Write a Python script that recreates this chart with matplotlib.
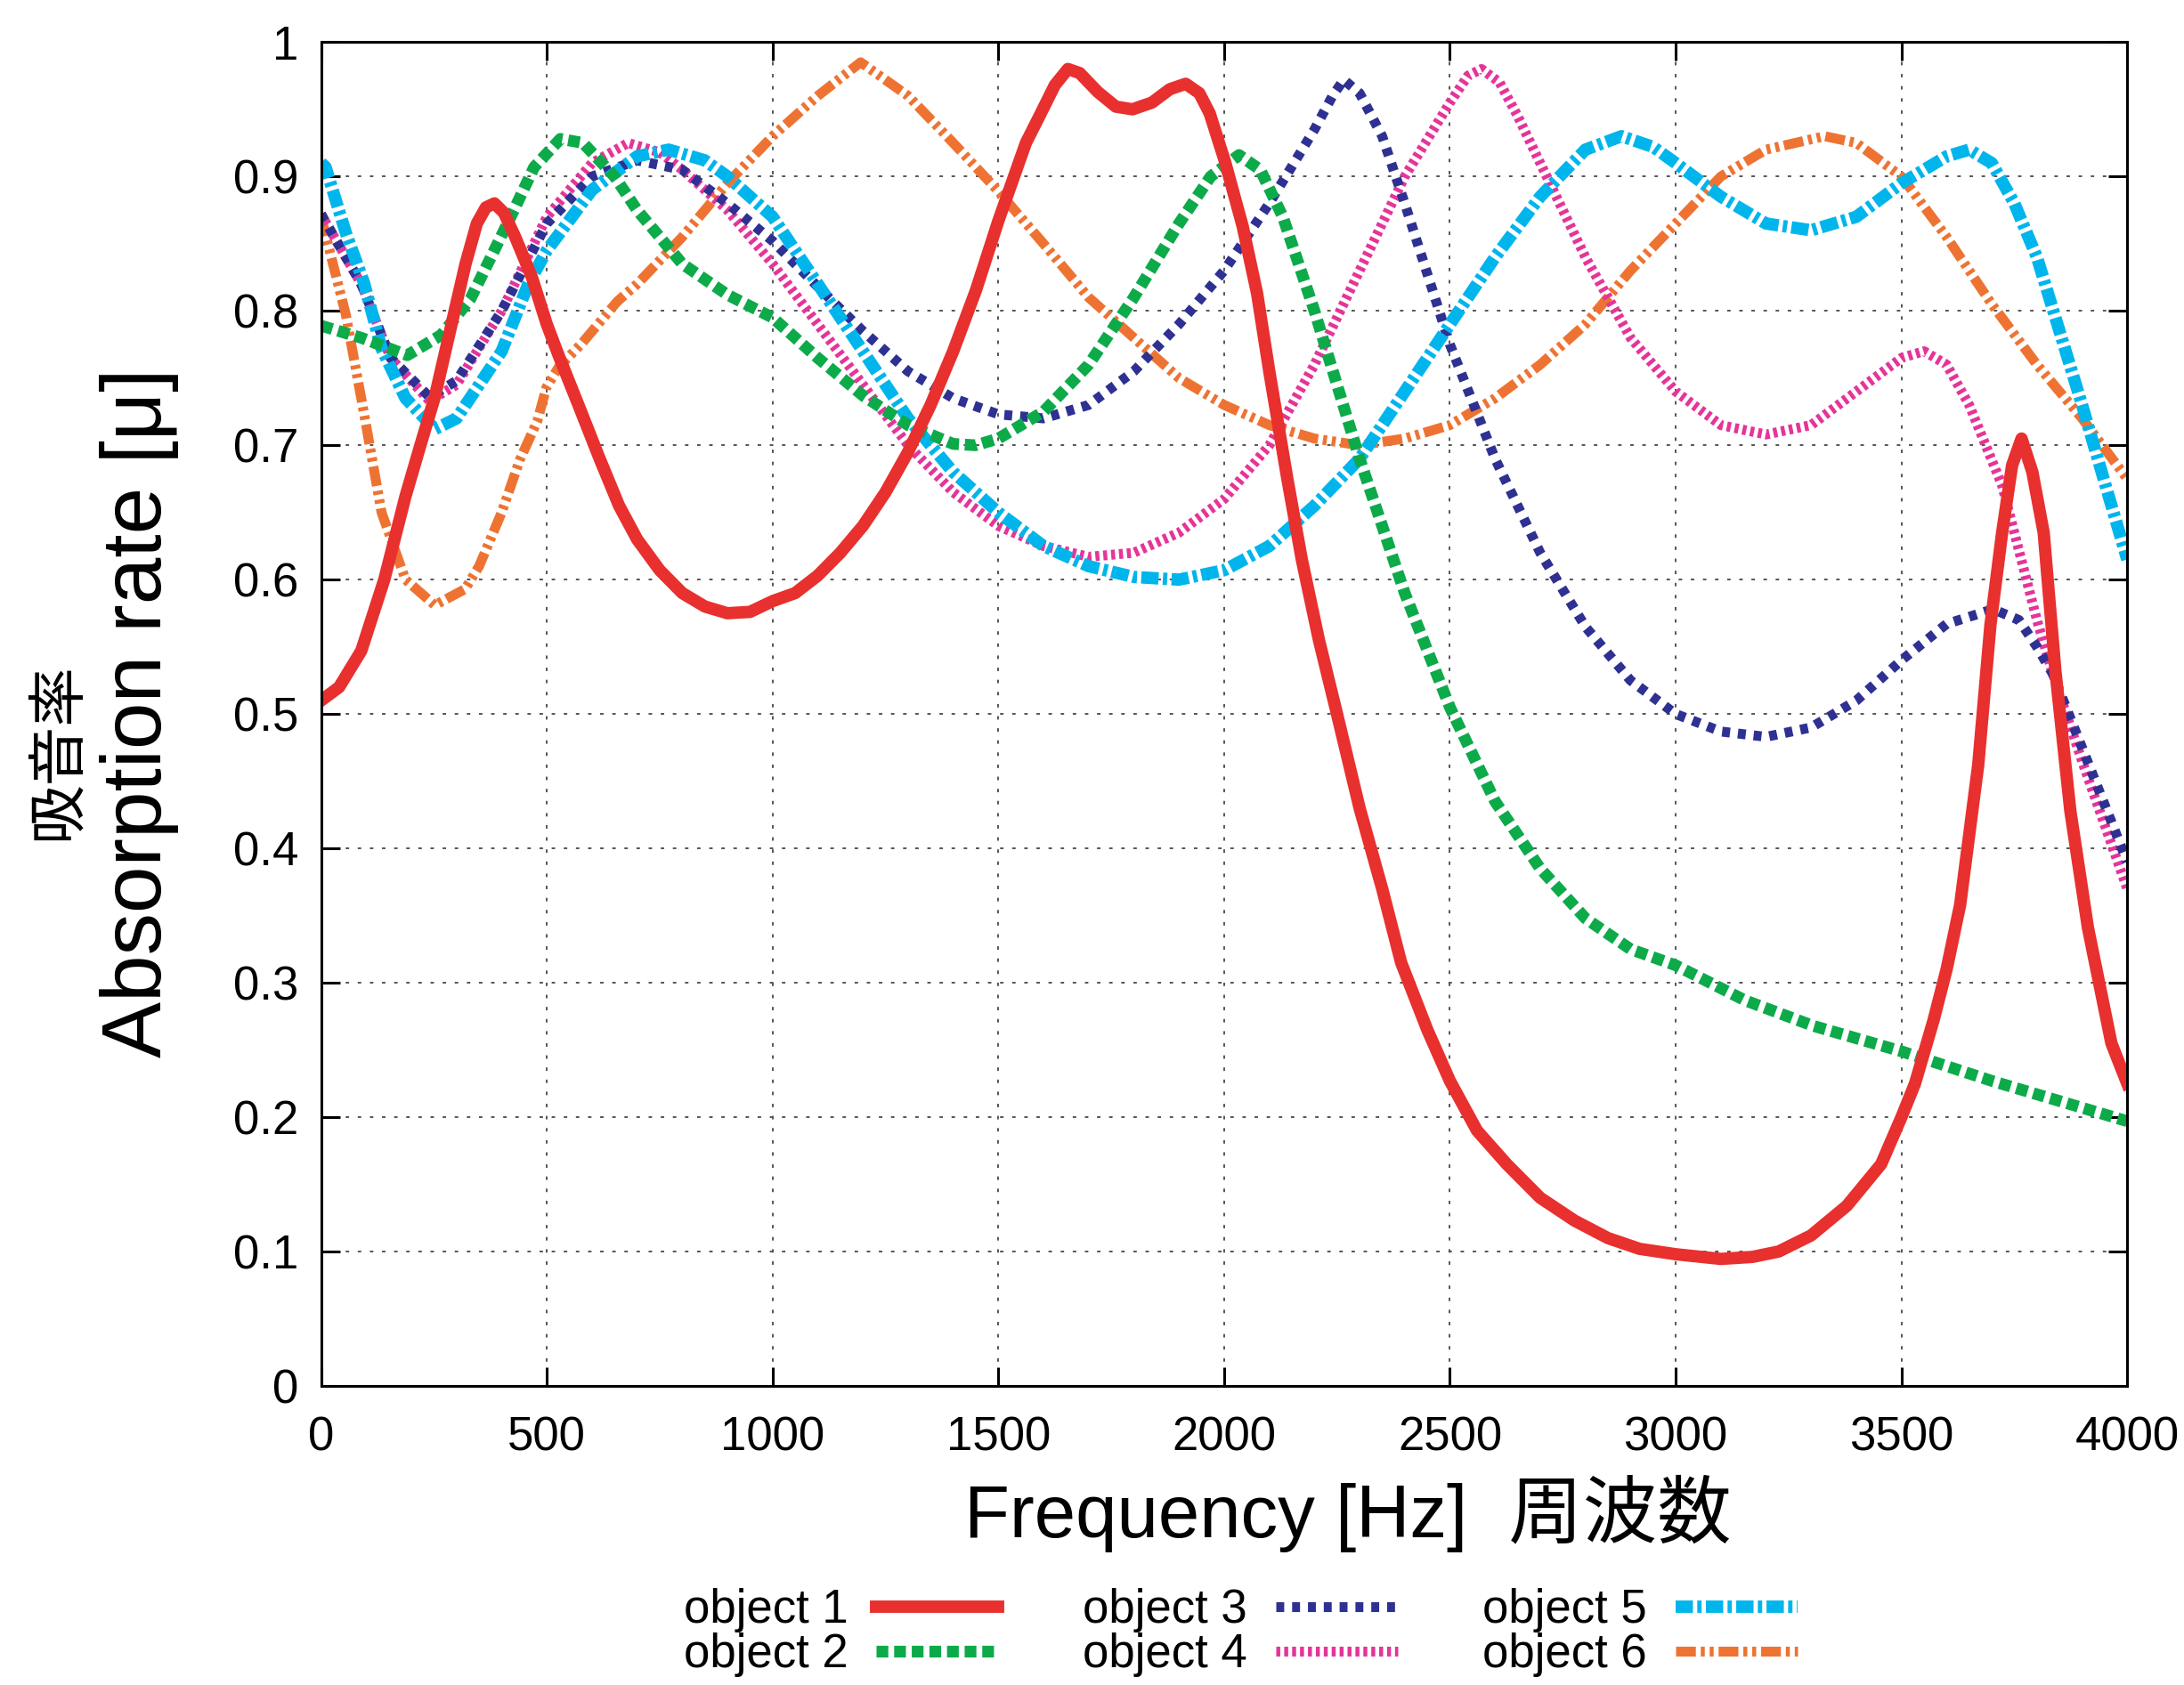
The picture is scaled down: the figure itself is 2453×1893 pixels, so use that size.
import matplotlib
matplotlib.use("Agg")
import matplotlib.pyplot as plt

plt.rcParams['font.family'] = ['Liberation Sans', 'Noto Sans CJK JP', 'DejaVu Sans']

# values (frequency in Hz, absorption rate)
f1 = [0, 40, 89, 140, 187, 220, 252, 289, 320, 345, 365, 384, 405, 430, 467, 500, 526,
      570, 617, 660, 700, 750, 800, 850, 900, 950, 1000, 1050, 1100, 1150, 1200, 1250,
      1300, 1350, 1400, 1450, 1500, 1561, 1594, 1625, 1654, 1680, 1720, 1760, 1797,
      1840, 1880, 1915, 1945, 1968, 2002, 2041, 2073, 2100, 2140, 2172, 2210, 2250,
      2300, 2350, 2392, 2450, 2500, 2560, 2626, 2700, 2776, 2850, 2920, 3000, 3100,
      3170, 3228, 3300, 3379, 3455, 3500, 3530, 3571, 3600, 3630, 3670, 3697, 3723,
      3745, 3766, 3790, 3815, 3841, 3874, 3913, 3965, 4000]
obj1 = [0.51, 0.52, 0.547, 0.60, 0.662, 0.70, 0.736, 0.79, 0.835, 0.865, 0.877, 0.88,
        0.873, 0.855, 0.825, 0.79, 0.767, 0.73, 0.69, 0.655, 0.63, 0.607, 0.59, 0.58,
        0.575, 0.576, 0.584, 0.59, 0.603, 0.62, 0.64, 0.665, 0.695, 0.73, 0.77, 0.815,
        0.867, 0.925, 0.947, 0.968, 0.98, 0.977, 0.963, 0.952, 0.95, 0.955, 0.965, 0.969,
        0.962, 0.947, 0.911, 0.863, 0.813, 0.755, 0.675, 0.615, 0.555, 0.50, 0.43, 0.37,
        0.315, 0.265, 0.227, 0.19, 0.165, 0.14, 0.123, 0.11, 0.102, 0.098, 0.0945,
        0.096, 0.10, 0.112, 0.134, 0.165, 0.20, 0.225, 0.272, 0.31, 0.358, 0.462, 0.566,
        0.635, 0.685, 0.705, 0.68, 0.635, 0.532, 0.428, 0.341, 0.255, 0.225]

f2 = [0, 89, 191, 266, 331, 420, 472, 530, 580, 650, 700, 800, 900, 1000, 1100, 1200,
      1300, 1400, 1450, 1500, 1600, 1700, 1800, 1900, 1970, 2033, 2080, 2130, 2200,
      2300, 2400, 2500, 2600, 2700, 2800, 2900, 3000, 3153, 3304, 3500, 3700, 3850, 4000]
obj2 = [0.789, 0.78, 0.767, 0.782, 0.809, 0.87, 0.907, 0.928, 0.925, 0.90, 0.875, 0.835,
        0.812, 0.795, 0.765, 0.737, 0.715, 0.701, 0.70, 0.705, 0.725, 0.76, 0.81, 0.865,
        0.90, 0.916, 0.905, 0.87, 0.80, 0.69, 0.59, 0.505, 0.435, 0.385, 0.348, 0.325,
        0.313, 0.287, 0.268, 0.249, 0.227, 0.212, 0.197]

f3 = [0, 89, 154, 240, 300, 400, 500, 600, 700, 800, 900, 1000, 1100, 1200, 1300, 1400,
      1500, 1600, 1700, 1800, 1900, 2000, 2100, 2200, 2240, 2265, 2300, 2350, 2400, 2500,
      2600, 2700, 2800, 2900, 3000, 3100, 3200, 3300, 3400, 3500, 3600, 3703, 3760,
      3800, 3835, 3900, 4000]
obj3 = [0.872, 0.82, 0.765, 0.736, 0.748, 0.80, 0.865, 0.90, 0.912, 0.905, 0.88, 0.852,
        0.818, 0.785, 0.755, 0.735, 0.723, 0.72, 0.73, 0.755, 0.79, 0.83, 0.88, 0.935,
        0.96, 0.972, 0.962, 0.93, 0.88, 0.775, 0.69, 0.62, 0.565, 0.525, 0.50, 0.487,
        0.483, 0.49, 0.51, 0.54, 0.567, 0.578, 0.57, 0.55, 0.53, 0.475, 0.39]

f4 = [0, 89, 154, 240, 300, 400, 500, 600, 680, 750, 800, 900, 1000, 1100, 1200, 1300,
      1400, 1500, 1600, 1700, 1800, 1900, 2000, 2100, 2200, 2300, 2400, 2500, 2540,
      2570, 2610, 2650, 2700, 2800, 2900, 3000, 3100, 3200, 3300, 3400, 3500, 3550,
      3600, 3650, 3723, 3800, 3835, 3900, 4000]
obj4 = [0.872, 0.82, 0.765, 0.733, 0.745, 0.80, 0.87, 0.91, 0.925, 0.918, 0.905, 0.875,
        0.835, 0.79, 0.745, 0.70, 0.665, 0.64, 0.625, 0.617, 0.62, 0.635, 0.66, 0.70,
        0.76, 0.83, 0.90, 0.955, 0.975, 0.98, 0.97, 0.945, 0.91, 0.84, 0.78, 0.74, 0.715,
        0.708, 0.715, 0.74, 0.765, 0.77, 0.76, 0.73, 0.67, 0.57, 0.53, 0.465, 0.37]

f5 = [0, 10, 55, 95, 134, 187, 252, 300, 400, 459, 500, 600, 700, 770, 850, 900, 1000,
      1100, 1200, 1300, 1400, 1500, 1600, 1700, 1800, 1900, 2000, 2100, 2200, 2300, 2400,
      2500, 2600, 2700, 2800, 2880, 2950, 3000, 3100, 3200, 3300, 3400, 3500, 3600,
      3650, 3700, 3750, 3800, 3900, 4000]
obj5 = [0.91, 0.907, 0.858, 0.821, 0.772, 0.735, 0.712, 0.72, 0.77, 0.82, 0.845, 0.89,
        0.915, 0.92, 0.912, 0.90, 0.87, 0.82, 0.77, 0.72, 0.68, 0.65, 0.625, 0.61, 0.602,
        0.60, 0.607, 0.625, 0.655, 0.69, 0.74, 0.79, 0.84, 0.885, 0.92, 0.93, 0.922, 0.91,
        0.885, 0.865, 0.86, 0.87, 0.895, 0.915, 0.92, 0.91, 0.88, 0.84, 0.73, 0.615]

f6 = [0, 55, 95, 134, 187, 252, 319, 350, 400, 440, 479, 499, 526, 578, 656, 700, 800,
      900, 1000, 1100, 1195, 1300, 1400, 1500, 1600, 1700, 1800, 1900, 2000, 2100, 2200,
      2300, 2400, 2500, 2600, 2700, 2800, 2900, 3000, 3100, 3200, 3330, 3400, 3500,
      3600, 3700, 3800, 3900, 4000]
obj6 = [0.87, 0.797, 0.724, 0.65, 0.60, 0.581, 0.593, 0.61, 0.65, 0.689, 0.718, 0.743,
        0.758, 0.776, 0.807, 0.82, 0.855, 0.895, 0.93, 0.96, 0.985, 0.96, 0.925, 0.889,
        0.85, 0.81, 0.78, 0.75, 0.73, 0.715, 0.705, 0.70, 0.705, 0.715, 0.735, 0.76, 0.79,
        0.83, 0.865, 0.90, 0.92, 0.93, 0.925, 0.90, 0.855, 0.805, 0.76, 0.72, 0.675]

labels = ["object 1", "object 2", "object 3", "object 4", "object 5", "object 6"]
xticks = [0, 500, 1000, 1500, 2000, 2500, 3000, 3500, 4000]
yticks = [0, 0.1, 0.2, 0.3, 0.4, 0.5, 0.6, 0.7, 0.8, 0.9, 1]
ytick_labels = ["0", "0.1", "0.2", "0.3", "0.4", "0.5", "0.6", "0.7", "0.8", "0.9", "1"]

fig = plt.figure(figsize=(24.53, 18.93), dpi=100)
ax = fig.add_axes([0.147, 0.1775, 0.827, 0.7975])

ax.plot(f6, obj6, color='#EE7332', lw=8, linestyle=(0, (2.0, 0.5, 0.4, 0.5, 0.4, 0.5)),
        label=labels[5], zorder=3)
ax.plot(f4, obj4, color='#E5349A', lw=8, linestyle=(0, (0.4, 0.4)), label=labels[3], zorder=4)
ax.plot(f3, obj3, color='#2E3192', lw=8, linestyle=(0, (0.8, 0.8)), label=labels[2], zorder=5)
ax.plot(f5, obj5, color='#00B5EC', lw=10, linestyle=(0, (1.4, 0.35, 0.35, 0.35)),
        label=labels[4], zorder=6)
ax.plot(f2, obj2, color='#0DAA4A', lw=9.5, linestyle=(0, (1.0, 0.5)), label=labels[1], zorder=7)
ax.plot(f1, obj1, color='#E8302F', lw=10, solid_joinstyle='round', label=labels[0], zorder=8)

ax.set_xlim(0, 4000)
ax.set_ylim(0, 1)
ax.set_xticks(xticks)
ax.set_yticks(yticks)
ax.set_yticklabels(ytick_labels)
ax.tick_params(direction='in', length=15, width=2.2, labelsize=38, top=True, right=True)
ax.tick_params(axis='x', pad=24)
ax.tick_params(axis='y', pad=18)
ax.grid(True, color='#555555', linestyle=(0, (2, 5)), linewidth=1.4)
for s in ax.spines.values():
    s.set_linewidth(2.2)
    s.set_zorder(10)

fig.text(0.617, 0.1017, "Frequency [Hz]  周波数", fontsize=60, ha='center', va='center')
fig.text(0.064, 0.577, "Absorption rate [μ]", fontsize=68, rotation=90, ha='center', va='center')
fig.text(0.027, 0.554, "吸音率", fontsize=48, rotation=90, ha='center', va='center')

handles, _ = ax.get_legend_handles_labels()
hmap = {h.get_label(): h for h in handles}
fig.legend([hmap[l] for l in labels], labels, loc='center', bbox_to_anchor=(0.568, 0.031),
           ncol=3, frameon=False, fontsize=38, markerfirst=False, handlelength=2.6,
           columnspacing=1.8, labelspacing=0.0, handletextpad=0.6)

plt.savefig("out.png", dpi=100)
